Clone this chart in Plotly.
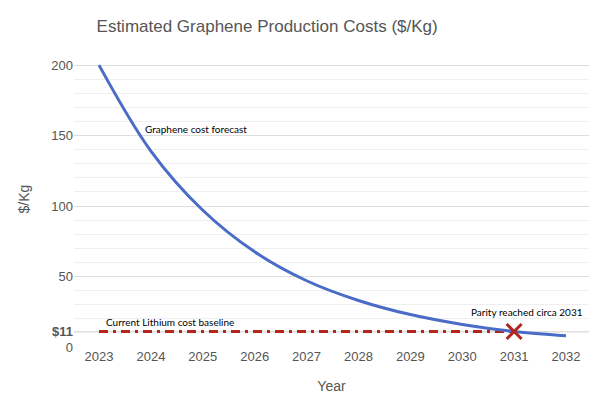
import plotly.graph_objects as go

years = [2023, 2024, 2025, 2026, 2027, 2028, 2029, 2030, 2031, 2032]
graphene_cost = [200, 139, 97, 67.5, 47, 33, 23, 16, 11, 8]
baseline_years = [2023, 2031]
lithium_cost = [11, 11]
parity_year = [2031]
parity_cost = [11]
y_tick_vals = [0, 11, 50, 100, 150, 200]
y_tick_text = ["0", "<b>$11</b>", "50", "100", "150", "200"]

fig = go.Figure()
fig.add_trace(go.Scatter(x=baseline_years, y=lithium_cost, mode="lines",
                         line=dict(color="#b3261e", width=3, dash="9px,5px,3px,5px"),
                         hoverinfo="skip", showlegend=False))
fig.add_trace(go.Scatter(x=years, y=graphene_cost, mode="lines",
                         line=dict(color="#4a6cc7", width=3, shape="spline", smoothing=1.0),
                         showlegend=False))
fig.add_trace(go.Scatter(x=parity_year, y=parity_cost, mode="markers",
                         marker=dict(symbol="x-thin-open", size=15, color="#b3261e",
                                     line=dict(color="#b3261e", width=3)),
                         showlegend=False))

ann_font = dict(family="Lato, Carlito, sans-serif", size=10, color="#000")
fig.add_annotation(x=2023.85, y=155, text="Graphene cost forecast", showarrow=False,
                   xanchor="left", yanchor="middle", font=ann_font)
fig.add_annotation(x=2023.1, y=18, text="Current Lithium cost baseline", showarrow=False,
                   xanchor="left", yanchor="middle", font=ann_font)
fig.add_annotation(x=2031.25, y=24.5, text="Parity reached circa 2031", showarrow=False,
                   xanchor="center", yanchor="middle", font=ann_font)

fig.update_layout(
    width=591, height=395,
    margin=dict(l=66, r=10, t=43, b=56),
    paper_bgcolor="white", plot_bgcolor="white",
    title=dict(text="Estimated Graphene Production Costs ($/Kg)", x=0.375, xref="paper",
               xanchor="center", y=0.955, yanchor="middle",
               font=dict(family="Liberation Sans, Arial, sans-serif", size=17, color="#555")),
    font=dict(family="Liberation Sans, Arial, sans-serif", color="#555"),
)
fig.update_xaxes(range=[2022.518, 2032.443], tickvals=years, showgrid=False,
                 zeroline=False, showline=False, ticks="",
                 tickfont=dict(size=13, color="#555"),
                 title=dict(text="Year", font=dict(size=14, color="#555"), standoff=18))
fig.update_yaxes(range=[0, 210], tickvals=y_tick_vals, ticktext=y_tick_text,
                 showgrid=True, gridcolor="#dedede", gridwidth=1,
                 zeroline=False, showline=False, ticks="",
                 minor=dict(dtick=10, tick0=0, showgrid=True, gridcolor="#efefef", gridwidth=1),
                 tickfont=dict(size=13, color="#555"),
                 title=dict(text="$/Kg", font=dict(size=14, color="#555"), standoff=18))
fig.write_html("out.html")
